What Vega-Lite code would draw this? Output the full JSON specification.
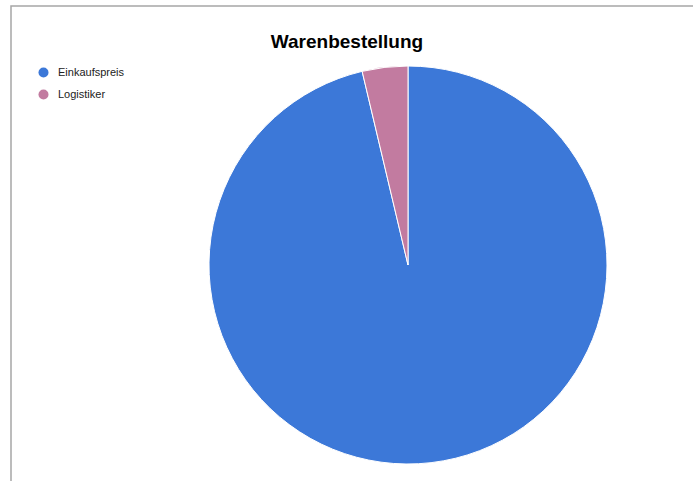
{
  "$schema": "https://vega.github.io/schema/vega-lite/v6.json",
  "autosize": {"type": "none"},
  "padding": {"left": 11, "top": 6, "right": -112, "bottom": -43},
  "width": 794,
  "height": 518,
  "background": "white",
  "view": {"stroke": "#a6a6a6", "strokeWidth": 1.5, "fill": "white"},
  "title": {
    "text": "Warenbestellung",
    "font": "Liberation Sans",
    "fontSize": 19,
    "fontWeight": "bold",
    "color": "#000000",
    "anchor": "middle",
    "orient": "top",
    "offset": -46,
    "dx": -61
  },
  "data": {
    "values": [
      {"Kategorie": "Einkaufspreis", "Anteil": 96.3},
      {"Kategorie": "Logistiker", "Anteil": 3.7}
    ]
  },
  "mark": {"type": "arc", "outerRadius": 199, "stroke": "white", "strokeWidth": 1},
  "encoding": {
    "theta": {"field": "Anteil", "type": "quantitative", "stack": true},
    "color": {
      "field": "Kategorie",
      "type": "nominal",
      "scale": {"domain": ["Einkaufspreis", "Logistiker"], "range": ["#3c78d8", "#c27ba0"]},
      "legend": {
        "title": null,
        "orient": "none",
        "legendX": 27,
        "legendY": 61,
        "symbolType": "circle",
        "symbolSize": 100,
        "symbolStrokeWidth": 0,
        "labelFont": "Liberation Sans",
        "labelFontSize": 11,
        "labelColor": "#222222",
        "labelOffset": 9,
        "rowPadding": 10
      }
    },
    "order": {"field": "Kategorie", "sort": "ascending"}
  }
}
